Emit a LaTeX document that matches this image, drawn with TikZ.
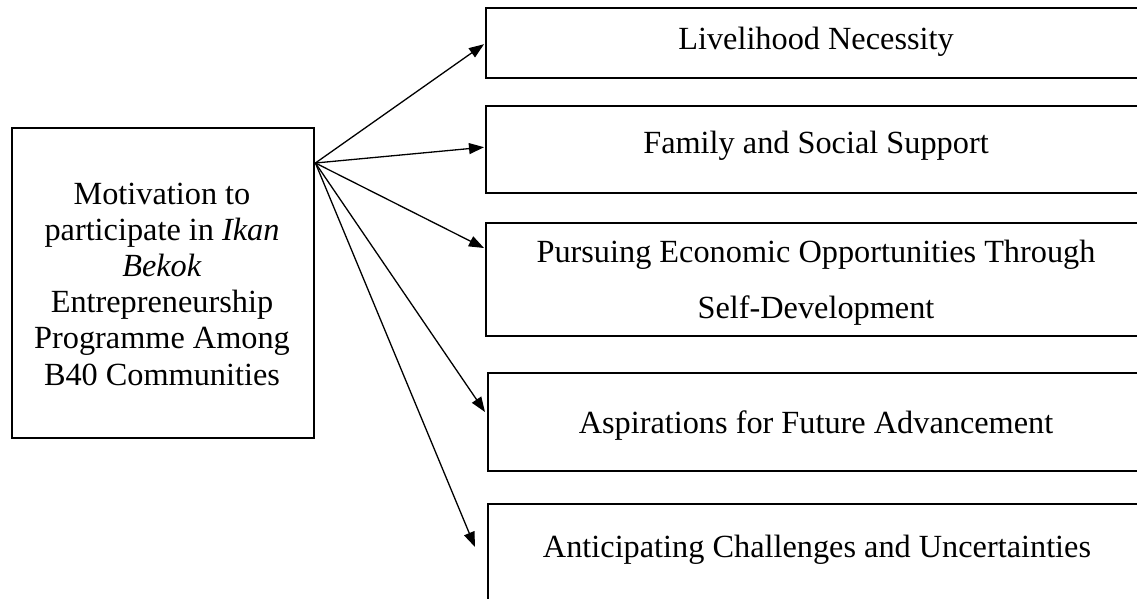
\documentclass[tikz,border=0pt]{standalone}
\usepackage{fontspec}
\setmainfont{Liberation Serif}
\usetikzlibrary{arrows.meta,calc}
\begin{document}
\begin{tikzpicture}[x=1pt,y=-1pt,
  frame/.style={draw=black,line width=2.4pt,inner sep=0pt,anchor=north west},
  lbl/.style={anchor=base,inner sep=0pt,font=\fontsize{32.3}{36.2}\selectfont},
  link/.style={line width=1.3pt,-{Triangle[length=15pt,width=11pt]}}]
\useasboundingbox (0,0) rectangle (1137,598);
\clip (0,0) rectangle (1137,598);

% source box; the base anchor of the wrapped text sits on its last line
\node[frame,minimum width=302pt,minimum height=310pt] (src) at (11,127) {};
\node[lbl,align=center] (srctext) at (162,385)
  {Motivation to\\participate in \textit{Ikan}\\\textit{Bekok}\\Entrepreneurship\\Programme Among\\B40 Communities};

% theme boxes (running off the right edge)
\node[frame,minimum width=700pt,minimum height=70pt]  (b1) at (485,7)   {};
\node[frame,minimum width=700pt,minimum height=87pt]  (b2) at (485,105) {};
\node[frame,minimum width=700pt,minimum height=113pt] (b3) at (485,222) {};
\node[frame,minimum width=700pt,minimum height=98pt]  (b4) at (487,372) {};
\node[frame,minimum width=700pt,minimum height=130pt] (b5) at (487,503) {};

\node[lbl] (t1)  at (816,49)  {Livelihood Necessity};
\node[lbl] (t2)  at (816,153) {Family and Social Support};
\node[lbl] (t3a) at (816,262) {Pursuing Economic Opportunities Through};
\node[lbl] (t3b) at (816,318) {Self-Development};
\node[lbl] (t4)  at (816,433) {Aspirations for Future Advancement};
\node[lbl] (t5)  at (817,557) {Anticipating Challenges and Uncertainties};

% arrow origin and tips
\coordinate (o)  at ($(src.north east)+(0,36)$);
\coordinate (e1) at ($(b1.west)+(-1,1)$);
\coordinate (e2) at ($(b2.west)+(-1,-2.5)$);
\coordinate (e3) at ($(b3.north west)+(-1,26)$);
\coordinate (e4) at ($(b4.north west)+(-2,40)$);
\coordinate (e5) at ($(b5.north west)+(-12,44)$);

\foreach \e in {e1,e2,e3,e4,e5}
  \draw[link] (o) -- (\e);
\end{tikzpicture}
\end{document}
